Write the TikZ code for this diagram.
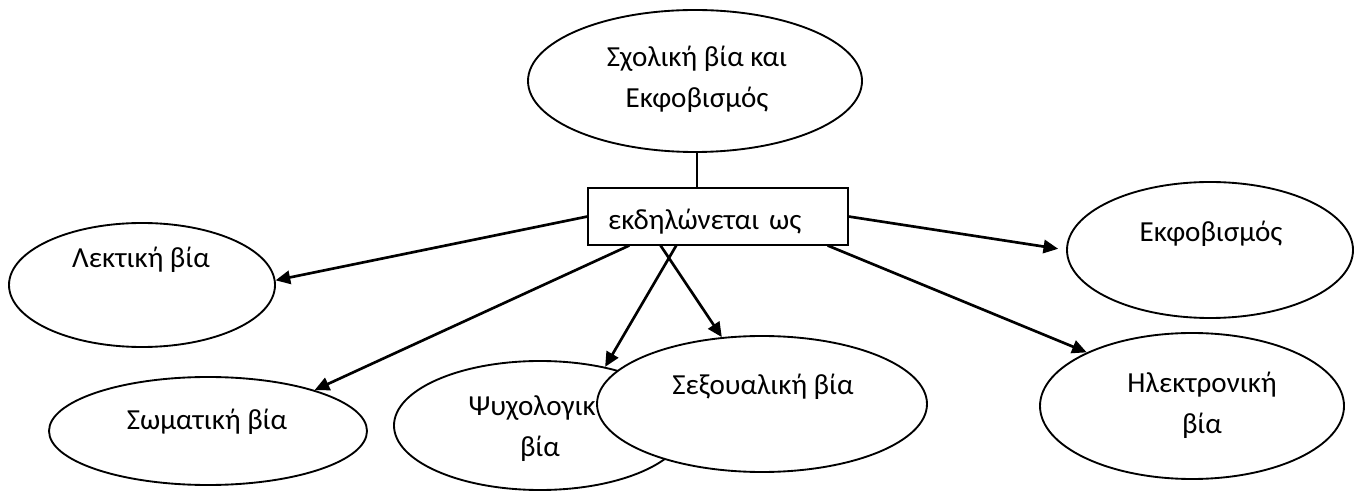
\documentclass[tikz,border=0pt]{standalone}
\usepackage{fontspec}
\setmainfont{Carlito}
\usepackage{tikz}
\usetikzlibrary{arrows.meta}
\usetikzlibrary{shapes,calc,positioning}
\newcommand{\cmapfont}{\fontsize{21.8}{30.75}\selectfont}
\tikzset{cmap-line/.style={line width=2pt}}
\tikzset{>={Triangle[length=11pt, width=10pt]}}
\tikzset{cmap-ellipse/.style 2 args={draw, ellipse, line width=1.4pt, fill=white, inner sep=0,
        minimum width=#1*0.75pt, minimum height=#2*0.75pt}}
\tikzset{cmap-box/.style={draw, line width=0.8pt, fill=white, inner xsep=15pt, inner ysep=0,
        text width=165pt, align=left, text height=20pt, text depth=0pt,
        minimum height=42.75pt, font=\cmapfont}}
\tikzset{cmap-text/.style={anchor=base, align=center, inner sep=0, font=\cmapfont}}

\begin{document}
\begin{tikzpicture}[x=0.75pt, y=-0.75pt]
            \useasboundingbox (0,0) rectangle (1360,491);

            \node[cmap-ellipse={334}{142}] (node1) at (695,81) {};
            \node[cmap-text] (text1) at (697,108) {Σχολική βία και\\Εκφοβισμός};

            \node[cmap-box] (node2) at (718,216.5) {εκδηλώνεται ως};

            \node[cmap-ellipse={266}{124}] (node3) at (142,285) {};
            \node[cmap-text] (text3) at (141,268) {Λεκτική βία};

            \node[cmap-ellipse={318}{108}] (node4) at (208,431) {};
            \node[cmap-text] (text4) at (207,430) {Σωματική βία};

            \node[cmap-ellipse={286}{136}] (node7) at (1210,250) {};
            \node[cmap-text] (text7) at (1211,242) {Εκφοβισμός};

            \node[cmap-ellipse={304}{146}] (node8) at (1192,406) {};
            \node[cmap-text] (text8) at (1202,434) {Ηλεκτρονική\\βία};

            \node[cmap-ellipse={292}{129}] (node5) at (540,425.5) {};
            \node[cmap-text] (text5) at (540,456) {Ψυχολογική\\βία};

            \node[cmap-ellipse={330}{136}] (node6) at (762,404) {};
            \node[cmap-text] (text6) at (763,395) {Σεξουαλική βία};

            \draw[line width=0.8pt] (node1.south -| text1) -- (text1 |- node2.north);

            \draw[->, cmap-line] (node2.west) -- (node3.2.5);
            \draw[->, cmap-line] ($(node2.south west)!0.16!(node2.south east)$) -- (node4.21);
            \draw[->, cmap-line] ($(node2.south west)!0.34!(node2.south east)$) -- (node5.42);
            \draw[->, cmap-line] ($(node2.south west)!0.28!(node2.south east)$) -- (node6.121);
            \draw[->, cmap-line, shorten >=6pt] (node2.east) -- (node7.west);
            \draw[->, cmap-line] ($(node2.south west)!0.92!(node2.south east)$) -- (node8.153);

        \end{tikzpicture}
\end{document}
